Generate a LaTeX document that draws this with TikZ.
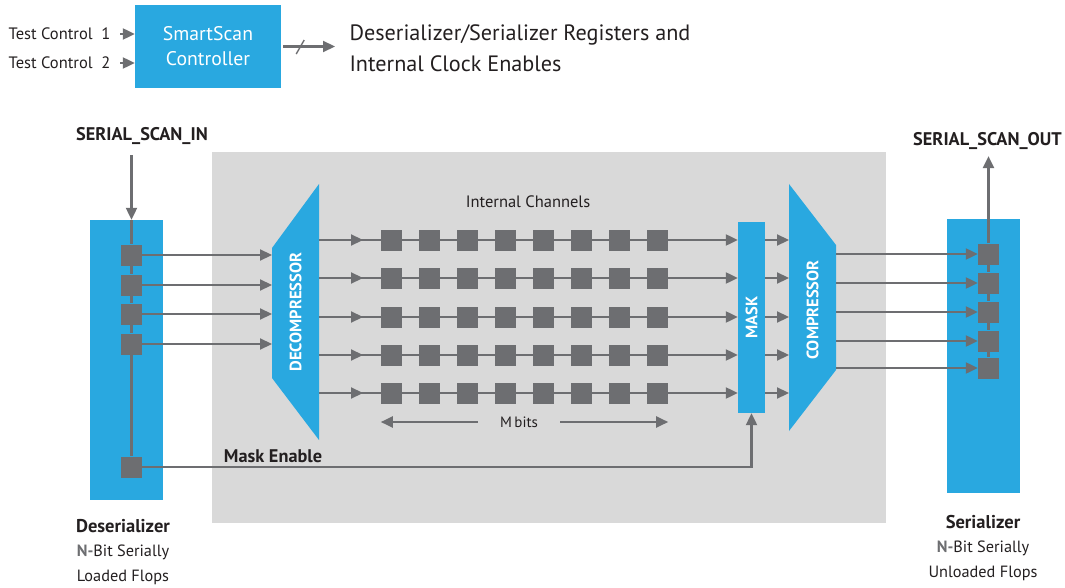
\documentclass[tikz,border=0pt]{standalone}
\usepackage{fontspec}
\setmainfont{PT Sans}
\usetikzlibrary{arrows.meta, calc, positioning}

\definecolor{scanblue}{HTML}{29A8E0}
\definecolor{flopgray}{HTML}{6D6E71}
\definecolor{fieldgray}{HTML}{D9D9D9}
\definecolor{textdark}{HTML}{231F20}

\newcommand\capfont{\bfseries\fontsize{18.5}{24.5}\selectfont}

\tikzset{
  flow/.style={draw=flopgray, line width=2.2pt},
  flop/.style={fill=flopgray, minimum size=21pt, inner sep=0pt},
  bluebox/.style={fill=scanblue, inner sep=0pt},
  vlabel/.style={rotate=90, text=white, font=\bfseries\fontsize{16.5}{16.5}\selectfont},
  boldlabel/.style={text=textdark, font=\bfseries\fontsize{18.3}{18.3}\selectfont},
  plainlabel/.style={text=textdark, font=\fontsize{16.5}{16.5}\selectfont},
  caption/.style={text=textdark, align=center, font=\fontsize{16.3}{24.5}\selectfont},
}

\begin{document}
\begin{tikzpicture}[x=1pt, y=-1pt, >={Triangle[length=12pt,width=11pt]}]
	\useasboundingbox (0,0) rectangle (1065,588);
	
	% Steuerung
	\node[bluebox, minimum width=146pt, minimum height=83pt, text=white, align=center,
	  font=\fontsize{19.7}{25}\selectfont] (ctrl) at (208,46.5) {SmartScan\\Controller};
	\node[plainlabel, anchor=east] (tc1) at (114,34) {Test Control\ \ 1};
	\node[plainlabel, anchor=east] (tc2) at (114,63) {Test Control\ \ 2};
	\draw[flow,->] ([xshift=6pt]tc1.east) -- (tc1.east -| ctrl.west);
	\draw[flow,->] ([xshift=6pt]tc2.east) -- (tc2.east -| ctrl.west);
	\node[text=textdark, anchor=west, align=left, font=\fontsize{22.2}{31}\selectfont]
	  (regs) at (346,48) {Deserializer/Serializer Registers and\\Internal Clock Enables};
	\draw[flow,->] ([xshift=2pt]ctrl.east) -- ([xshift=-11pt]ctrl.east -| regs.west);
	\draw[flow, line width=1.4pt] ($(ctrl.east)+(15,7.5)$) -- ++(8,-14);
	
	% Kompressionsbereich
	\fill[fieldgray] (212,152) rectangle (886,523);
	
	% Deserialisierer
	\node[bluebox, minimum width=73pt, minimum height=280pt] (deser) at (126.5,360) {};
	\foreach \i/\y in {1/255,2/285,3/314,4/344,5/467}
	  \node[flop] (d\i) at (131.5,\y) {};
	\foreach \i/\j in {1/2,2/3,3/4,4/5}
	  \draw[flow] (d\i.south) -- (d\j.north);
	\node[boldlabel] (sin) at (142,136) {SERIAL\_SCAN\_IN};
	\coordinate (sintop) at ([yshift=-7pt]sin.south);
	\draw[flow,->] (sintop -| d1) -- (deser.north -| d1);
	\draw[flow] (deser.north -| d1) -- (d1.north);
	
	% Dekompressor
	\fill[scanblue] (272,248) -- (319,184) -- (319,440) -- (272,378) -- cycle;
	\coordinate (dcl) at (272,312);
	\coordinate (dcr) at (319,312);
	\node[vlabel] (decomp) at (295.5,312) {DECOMPRESSOR};
	\foreach \i in {1,...,4}
	  \draw[flow,->] (d\i.east) -- (d\i -| dcl);
	
	% Maske
	\node[bluebox, minimum width=27pt, minimum height=191pt] (mask) at (751.5,317.5) {};
	\node[vlabel] (masklbl) at (mask) {MASK};
	
	% Kompressor
	\fill[scanblue] (789,184) -- (836,245) -- (836,370) -- (789,431) -- cycle;
	\coordinate (ccl) at (789,307);
	\coordinate (ccr) at (836,307);
	\node[vlabel] (comp) at (812.5,310) {COMPRESSOR};
	
	% Interne Kanaele
	\node[plainlabel] (chan) at (528,202) {Internal Channels};
	\foreach \r/\y in {1/240,2/278,3/317,4/355,5/393} {
	  \coordinate (rowc) at (0,\y);
	  \draw[flow,->] (dcr |- rowc) -- (mask.west |- rowc);
	  \draw[flow,->] (dcr |- rowc) -- ++(44,0);
	  \foreach \k in {1,...,8}
	    \node[flop] (c\r\k) at ({391.5+38*(\k-1)},\y) {};
	  \draw[flow,->] (mask.east |- rowc) -- (ccl |- rowc);
	}
	\node[plainlabel, font=\fontsize{15}{15}\selectfont] (mbits) at (519,422) {M\,bits};
	\draw[flow,->] ([xshift=-19pt]mbits.west) -- (mbits -| c51.west);
	\draw[flow,->] ([xshift=19pt]mbits.east) -- (mbits -| c58.east);
	
	% Maskenfreigabe
	\draw[flow,->] (d5.east) -- (d5 -| mask) -- (mask.south);
	\node[boldlabel] (men) at (273,456) {Mask Enable};
	
	% Serialisierer
	\node[bluebox, minimum width=73pt, minimum height=274pt] (ser) at (983.5,356) {};
	\foreach \i/\y in {1/254,2/283,3/312,4/341,5/368}
	  \node[flop] (s\i) at (988.5,\y) {};
	\foreach \i/\j in {1/2,2/3,3/4,4/5}
	  \draw[flow] (s\i.south) -- (s\j.north);
	\foreach \i in {1,...,5}
	  \draw[flow,->] (ccr |- s\i) -- (s\i.west);
	\node[boldlabel] (sout) at (987.5,141) {SERIAL\_SCAN\_OUT};
	\draw[flow,->] (s1.north) -- ([yshift=-3pt]sout.south -| s1);
	
	% Beschriftungen
	\node[caption] (desname) at (123,552) {{\capfont Deserializer}\\{\bfseries\color{flopgray}N-}Bit Serially\\Loaded Flops};
	\node[caption] (sername) at (983,548) {{\capfont Serializer}\\{\bfseries\color{flopgray}N-}Bit Serially\\Unloaded Flops};
\end{tikzpicture}
\end{document}
